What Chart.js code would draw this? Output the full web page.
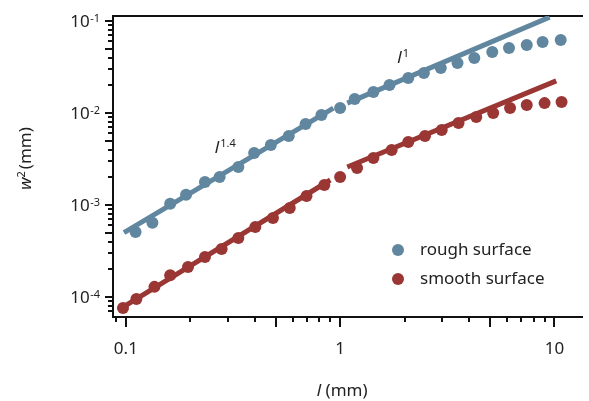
<!DOCTYPE html>
<html><head><meta charset="utf-8">
<script src="https://cdn.jsdelivr.net/npm/chart.js@4/dist/chart.umd.min.js"></script>
<style>html,body{margin:0;padding:0;background:#fff}#wrap{width:589px;height:401px}</style>
</head><body><div id="wrap"><canvas id="c" width="589" height="401"></canvas></div>
<script>
// ---- data ----
const roughX = [0.111, 0.133, 0.161, 0.191, 0.234, 0.274, 0.335, 0.397, 0.475, 0.576, 0.690, 0.818, 1.00, 1.17, 1.43, 1.70, 2.08, 2.46, 2.95, 3.53, 4.23, 5.13, 6.14, 7.43, 8.81, 10.7];
const roughY = [5.1e-4, 6.4e-4, 1.03e-3, 1.29e-3, 1.78e-3, 2.01e-3, 2.59e-3, 3.67e-3, 4.49e-3, 5.62e-3, 7.6e-3, 9.5e-3, 0.0113, 0.0142, 0.0169, 0.0201, 0.0240, 0.0272, 0.0309, 0.0349, 0.0396, 0.0460, 0.0509, 0.0549, 0.0591, 0.0621];
const smoothX = [0.097, 0.112, 0.136, 0.161, 0.195, 0.234, 0.280, 0.335, 0.402, 0.486, 0.582, 0.697, 0.844, 1.00, 1.20, 1.43, 1.74, 2.08, 2.49, 2.98, 3.57, 4.32, 5.18, 6.21, 7.43, 9.00, 10.8];
const smoothY = [7.6e-5, 9.5e-5, 1.29e-4, 1.73e-4, 2.12e-4, 2.72e-4, 3.33e-4, 4.38e-4, 5.77e-4, 7.22e-4, 9.26e-4, 1.25e-3, 1.65e-3, 2.02e-3, 2.52e-3, 3.24e-3, 3.96e-3, 4.84e-3, 5.62e-3, 6.53e-3, 7.79e-3, 9.06e-3, 0.0100, 0.0113, 0.0122, 0.0128, 0.0132];
const roughFit14X = [0.098, 0.93];
const roughFit14Y = [5.0e-4, 0.0113];
const roughFit1X = [1.08, 9.5];
const roughFit1Y = [0.0128, 0.110];
const smoothFit14X = [0.092, 0.90];
const smoothFit14Y = [7.2e-5, 1.87e-3];
const smoothFit1X = [1.08, 10.2];
const smoothFit1Y = [2.59e-3, 0.0223];
const seriesNames = ['rough surface', 'smooth surface'];
const xTickValues = [0.1, 1, 10];
const xTickLabels = ['0.1', '1', '10'];
const yTickValues = [1e-4, 1e-3, 1e-2, 1e-1];
const yTickExponents = ['-4', '-3', '-2', '-1'];
const annotations = [
  {x: 0.26, y: 3.67e-3, base: 'l', sup: '1.4'},
  {x: 1.85, y: 0.0349, base: 'l', sup: '1'}
];
// ---- styles ----
const BLUE = '#60879F';
const RED = '#9A3633';
const INK = '#222';
const FONT = '"Noto Sans", "Open Sans", sans-serif';

const pts = (xs, ys) => xs.map((x, i) => ({x, y: ys[i]}));
const scatterDs = (label, xs, ys, c) => ({label, data: pts(xs, ys), showLine: false, pointRadius: 6, pointHoverRadius: 6, pointBorderWidth: 0, backgroundColor: c, borderColor: c});
const lineDs = (xs, ys, c) => ({label: '', data: pts(xs, ys), showLine: true, pointRadius: 0, borderWidth: 5, borderColor: c, backgroundColor: c, borderCapStyle: 'butt', fill: false});

const axesPlugin = {
  id: 'axesPlugin',
  beforeDatasetsDraw(chart) {
    const ctx = chart.ctx, a = chart.chartArea;
    const xs = chart.scales.x, ys = chart.scales.y;
    ctx.save();
    ctx.strokeStyle = '#111';
    ctx.lineWidth = 2;
    ctx.lineCap = 'butt';
    ctx.beginPath();
    ctx.moveTo(a.left, a.top); ctx.lineTo(a.right, a.top);
    ctx.moveTo(a.left, a.top - 1); ctx.lineTo(a.left, a.bottom + 1);
    ctx.moveTo(a.left - 1, a.bottom); ctx.lineTo(a.right, a.bottom);
    ctx.stroke();
    // ticks
    ctx.beginPath();
    for (let d = -5; d <= 2; d++) {
      for (let m = 1; m <= 9; m++) {
        const v = m * Math.pow(10, d);
        if (v >= xs.min && v <= xs.max) {
          const p = Math.round(xs.getPixelForValue(v));
          const len = (m === 1 || m === 5) ? 10 : 5;
          ctx.moveTo(p, a.bottom); ctx.lineTo(p, a.bottom + len);
        }
        if (v >= ys.min && v <= ys.max) {
          const p = Math.round(ys.getPixelForValue(v));
          const len = (m === 1 || m === 5) ? 8 : 5;
          ctx.moveTo(a.left, p); ctx.lineTo(a.left - len, p);
        }
      }
    }
    ctx.stroke();
    ctx.restore();
  },
  afterDatasetsDraw(chart) {
    const ctx = chart.ctx, a = chart.chartArea;
    const xs = chart.scales.x, ys = chart.scales.y;
    ctx.save();
    ctx.fillStyle = INK;
    // x tick labels
    ctx.font = '17px ' + FONT;
    ctx.textAlign = 'center';
    ctx.textBaseline = 'middle';
    xTickValues.forEach((v, i) => ctx.fillText(xTickLabels[i], xs.getPixelForValue(v), a.bottom + 32));
    // y tick labels
    ctx.textBaseline = 'alphabetic';
    yTickValues.forEach((v, i) => {
      const p = ys.getPixelForValue(v);
      ctx.font = '11px ' + FONT;
      ctx.textAlign = 'right';
      const right = a.left - 13;
      const ew = ctx.measureText(yTickExponents[i]).width;
      ctx.fillText(yTickExponents[i], right, p + 1);
      ctx.font = '17px ' + FONT;
      ctx.fillText('10', right - ew - 0.5, p + 6);
    });
    // x title
    ctx.textAlign = 'left';
    ctx.font = 'italic 17px ' + FONT;
    const w1 = ctx.measureText('l').width;
    ctx.font = '17px ' + FONT;
    const w2 = ctx.measureText(' (mm)').width;
    const cx = (xs.getPixelForValue(1)) + 2;
    let sx = cx - (w1 + w2) / 2;
    ctx.font = 'italic 17px ' + FONT;
    ctx.fillText('l', sx, 396);
    ctx.font = '17px ' + FONT;
    ctx.fillText(' (mm)', sx + w1, 396);
    // y title
    ctx.save();
    ctx.translate(31, (a.top + a.bottom) / 2 - 8);
    ctx.rotate(-Math.PI / 2);
    ctx.font = 'italic 17px ' + FONT;
    const tw1 = ctx.measureText('w').width;
    ctx.font = '11px ' + FONT;
    const tw2 = ctx.measureText('2').width;
    ctx.font = '17px ' + FONT;
    const tw3 = ctx.measureText('(mm)').width;
    let ty = -(tw1 + tw2 + 2 + tw3) / 2;
    ctx.font = 'italic 17px ' + FONT;
    ctx.fillText('w', ty, 0);
    ctx.font = '11px ' + FONT;
    ctx.fillText('2', ty + tw1, -6);
    ctx.font = '17px ' + FONT;
    ctx.fillText('(mm)', ty + tw1 + tw2 + 2, 0);
    ctx.restore();
    // annotations
    annotations.forEach(an => {
      const px = xs.getPixelForValue(an.x), py = ys.getPixelForValue(an.y);
      ctx.font = 'italic 17px ' + FONT;
      ctx.fillText(an.base, px, py);
      const bw = ctx.measureText(an.base).width;
      ctx.font = '11px ' + FONT;
      ctx.fillText(an.sup, px + bw + 1, py - 6);
    });
    // legend
    const colors = [BLUE, RED];
    seriesNames.forEach((n, i) => {
      const ly = a.top + 234 + i * 29;
      const lx = a.left + 285;
      ctx.fillStyle = colors[i];
      ctx.beginPath(); ctx.arc(lx, ly, 6, 0, Math.PI * 2); ctx.fill();
      ctx.fillStyle = INK;
      ctx.font = '17px ' + FONT;
      ctx.textBaseline = 'middle';
      ctx.fillText(n, lx + 22, ly);
      ctx.textBaseline = 'alphabetic';
    });
    ctx.restore();
  }
};

new Chart(document.getElementById('c'), {
  type: 'scatter',
  data: {
    datasets: [
      scatterDs(seriesNames[0], roughX, roughY, BLUE),
      scatterDs(seriesNames[1], smoothX, smoothY, RED),
      lineDs(roughFit14X, roughFit14Y, BLUE),
      lineDs(roughFit1X, roughFit1Y, BLUE),
      lineDs(smoothFit14X, smoothFit14Y, RED),
      lineDs(smoothFit1X, smoothFit1Y, RED)
    ]
  },
  options: {
    responsive: false,
    animation: false,
    devicePixelRatio: 1,
    layout: {padding: {left: 113, top: 16, right: 0, bottom: 84}},
    scales: {
      x: {type: 'logarithmic', min: 0.0871, max: 13.6, display: false},
      y: {type: 'logarithmic', min: 6.07e-5, max: 0.1132, display: false}
    },
    plugins: {legend: {display: false}, tooltip: {enabled: false}},
    elements: {line: {tension: 0}}
  },
  plugins: [axesPlugin]
});
</script>
</body></html>
